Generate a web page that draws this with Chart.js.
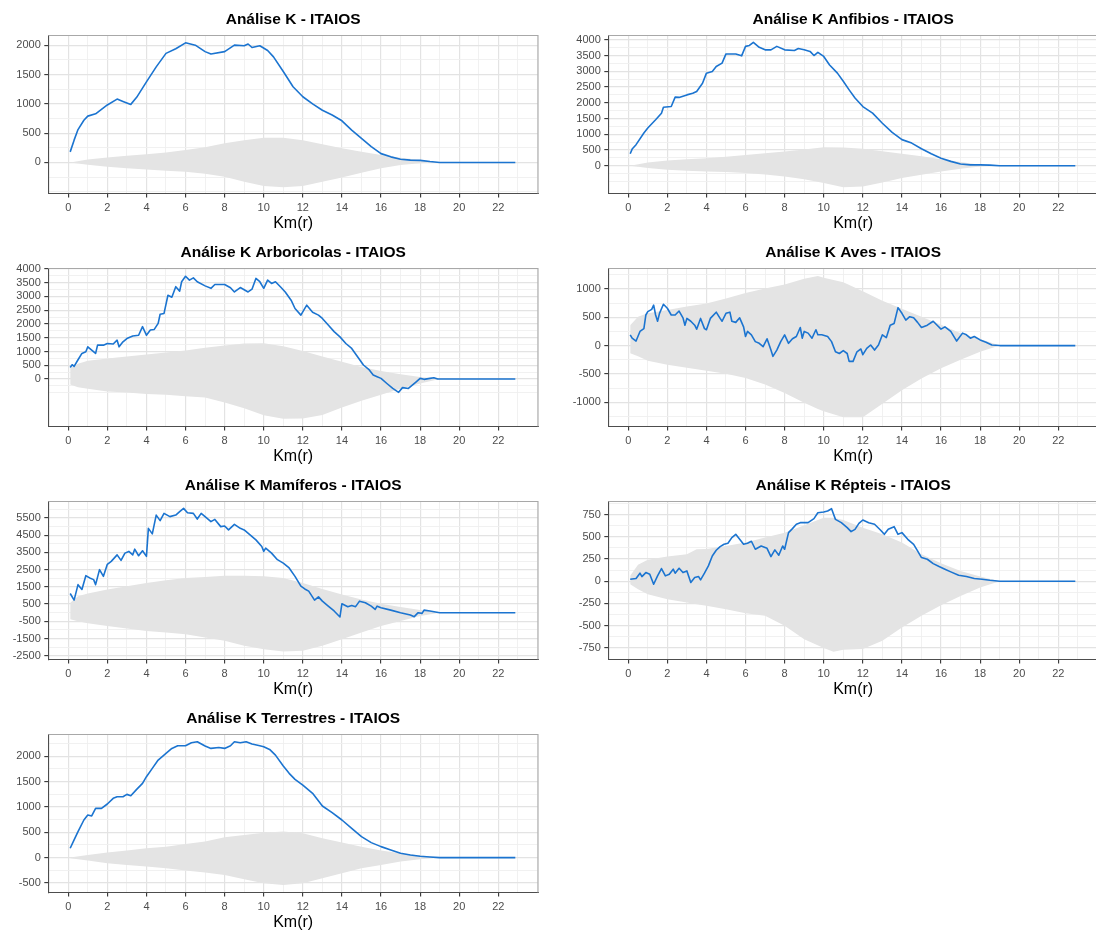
<!DOCTYPE html>
<html><head><meta charset="utf-8">
<script src="https://cdn.jsdelivr.net/npm/chart.js@4.4.1/dist/chart.umd.min.js"></script>
<style>
html,body{margin:0;padding:0;background:#fff;overflow:hidden;width:1096px;height:931px;position:relative}
canvas{position:absolute}
</style></head><body>
<canvas id="c1" width="548" height="233" style="left:0;top:0"></canvas>
<canvas id="c2" width="548" height="233" style="left:560px;top:0"></canvas>
<canvas id="c3" width="548" height="233" style="left:0;top:233px"></canvas>
<canvas id="c4" width="548" height="233" style="left:560px;top:233px"></canvas>
<canvas id="c5" width="548" height="233" style="left:0;top:466px"></canvas>
<canvas id="c6" width="548" height="233" style="left:560px;top:466px"></canvas>
<canvas id="c7" width="548" height="233" style="left:0;top:699px"></canvas>
<script>
// ---------- data ----------
const xTicks = [0, 2, 4, 6, 8, 10, 12, 14, 16, 18, 20, 22];

// Análise K - ITAIOS
const geralR = [0.1,0.3,0.5,0.8,1.0,1.4,2.0,2.5,2.8,3.2,3.5,4.0,4.5,5.0,5.5,6.0,6.5,7.0,7.3,8.0,8.5,9.0,9.2,9.4,9.8,10.2,10.5,11.0,11.5,12.0,12.5,13.0,13.5,14.0,14.5,15.0,15.5,16.0,16.5,17.0,17.5,18.0,18.5,19.0,22.87];
const geralK = [180,380,560,720,790,830,980,1080,1040,990,1110,1375,1630,1860,1940,2040,2000,1890,1850,1890,2000,1990,2020,1960,1990,1910,1800,1550,1290,1120,1000,890,810,710,550,410,270,150,95,55,40,35,15,0,0];
const geralEnvR = [0.1,1,2,3,4,5,6,7,8,9,10,11,12,13,14,15,16,17,18,19];
const geralHi = [0,50,85,115,140,170,210,260,325,380,420,420,380,310,240,180,125,80,40,0];
const geralLo = [0,-40,-75,-100,-120,-140,-160,-195,-245,-330,-400,-425,-400,-330,-255,-175,-100,-45,-15,0];
const geralYTicks = [0,500,1000,1500,2000];

// Análise K Anfibios - ITAIOS
const anfR = [0.1,0.2,0.4,0.8,1.0,1.4,1.7,1.8,2.2,2.4,2.6,3.0,3.3,3.5,3.8,4.0,4.3,4.5,4.8,5.0,5.5,5.8,6.0,6.2,6.4,6.7,7.0,7.3,7.6,8.0,8.5,8.7,9.0,9.3,9.5,9.7,10.0,10.3,10.7,11.0,11.3,11.6,12.0,12.5,13.0,13.5,14.0,14.5,15.0,15.5,16.0,16.5,17.0,17.5,18.0,18.5,19.0,22.87];
const anfK = [380,530,670,1040,1200,1460,1670,1860,1880,2180,2170,2250,2300,2360,2620,2940,2990,3150,3260,3550,3550,3490,3790,3820,3920,3760,3680,3680,3790,3680,3660,3720,3680,3630,3500,3600,3470,3200,2940,2680,2410,2150,1880,1670,1350,1060,830,720,540,380,240,140,55,30,30,20,0,0];
const anfEnvR = [0.1,1,2,3,4,5,6,7,8,9,10,11,12,13,14,15,16,17,18,19];
const anfHi = [0,100,170,210,240,290,340,400,455,520,590,580,540,460,380,300,210,120,30,0];
const anfLo = [0,-70,-125,-155,-180,-200,-230,-280,-340,-430,-550,-680,-660,-530,-390,-285,-180,-95,-20,0];
const anfYTicks = [0,500,1000,1500,2000,2500,3000,3500,4000];

// Análise K Arboricolas - ITAIOS
const arbR = [0.1,0.2,0.3,0.5,0.7,0.9,1.0,1.2,1.4,1.5,1.8,2.0,2.3,2.5,2.6,2.8,3.0,3.3,3.6,3.8,4.0,4.2,4.4,4.6,4.7,4.9,5.1,5.3,5.5,5.7,5.8,6.0,6.2,6.4,6.6,7.0,7.3,7.5,8.0,8.3,8.5,8.8,9.2,9.4,9.6,9.8,10.0,10.2,10.4,10.6,10.9,11.1,11.4,11.6,11.9,12.2,12.5,12.8,13.0,13.3,13.6,13.9,14.2,14.5,14.8,15.1,15.4,15.6,15.8,16.0,16.3,16.6,16.9,17.1,17.4,17.6,17.8,18.0,18.2,18.5,18.7,18.9,22.87];
const arbK = [420,520,460,700,930,990,1170,1050,930,1230,1230,1290,1270,1410,1170,1350,1470,1560,1590,1900,1590,1780,1800,2020,2350,2380,3040,2970,3350,3190,3530,3730,3590,3670,3530,3380,3290,3430,3430,3310,3160,3320,3160,3260,3650,3530,3290,3590,3470,3530,3310,3160,2860,2560,2320,2680,2420,2320,2200,1960,1720,1530,1290,1110,810,510,330,145,85,25,-160,-340,-480,-310,-340,-220,-100,25,-10,25,50,0,0];
const arbEnvR = [0.1,0.5,1,2,3,4,5,6,7,8,9,10,11,12,13,14,15,16,17,18,19];
const arbHi = [390,560,660,750,820,890,960,1040,1140,1220,1290,1300,1190,1020,820,630,440,290,175,75,0];
const arbLo = [-200,-300,-350,-450,-490,-540,-570,-620,-670,-850,-1060,-1310,-1440,-1430,-1300,-1030,-790,-570,-350,-160,0];
const arbYTicks = [0,500,1000,1500,2000,2500,3000,3500,4000];

// Análise K Aves - ITAIOS
const avesR = [0.1,0.2,0.4,0.6,0.8,0.9,1.0,1.2,1.3,1.4,1.5,1.6,1.8,2.0,2.2,2.4,2.6,2.8,2.9,3.0,3.2,3.4,3.5,3.7,3.9,4.0,4.2,4.5,4.7,4.8,5.0,5.2,5.3,5.5,5.7,5.9,6.0,6.1,6.3,6.5,6.7,6.9,7.1,7.3,7.4,7.6,7.8,8.0,8.2,8.4,8.6,8.8,8.9,9.0,9.2,9.4,9.6,9.7,9.9,10.2,10.4,10.6,10.8,11.0,11.2,11.3,11.5,11.7,11.9,12.0,12.2,12.4,12.6,12.8,13.0,13.2,13.4,13.6,13.8,14.0,14.2,14.4,14.6,14.8,15.0,15.3,15.6,15.8,16.0,16.2,16.5,16.8,17.1,17.3,17.5,17.7,18.0,18.3,18.6,19.0,22.87];
const avesK = [190,130,80,250,300,540,600,640,715,540,430,570,730,660,540,540,610,490,360,480,430,360,290,480,300,280,480,590,480,430,570,590,430,410,490,330,160,250,190,70,40,-20,120,-80,-190,-80,70,190,40,120,160,320,130,250,220,130,280,190,190,160,70,-110,-140,-90,-140,-280,-280,-110,-60,-160,-50,10,-80,10,190,140,360,390,670,570,450,510,490,410,320,360,430,360,290,330,250,80,220,190,130,160,100,60,10,0,0];
const avesEnvR = [0.1,0.5,1,2,3,4,5,6,7,8,9,9.7,10,11,12,13,14,15,16,17,18,19];
const avesHi = [360,510,570,630,690,745,830,930,1010,1080,1180,1230,1200,1120,960,790,650,510,370,220,115,0];
const avesLo = [-135,-190,-270,-340,-390,-445,-500,-575,-690,-840,-1010,-1120,-1160,-1265,-1265,-1030,-790,-580,-400,-250,-110,0];
const avesYTicks = [-1000,-500,0,500,1000];

// Análise K Mamíferos - ITAIOS
const mamR = [0.1,0.3,0.5,0.7,0.9,1.1,1.3,1.4,1.6,1.8,2.0,2.2,2.5,2.7,2.9,3.1,3.3,3.4,3.6,3.8,4.0,4.1,4.3,4.5,4.7,4.9,5.2,5.5,5.7,5.9,6.1,6.4,6.6,6.8,7.0,7.3,7.5,7.8,8.0,8.2,8.5,8.8,9.0,9.3,9.6,9.9,10.0,10.1,10.4,10.7,11.0,11.3,11.6,11.9,12.1,12.3,12.6,12.8,13.0,13.3,13.6,13.9,14.0,14.3,14.5,14.7,14.9,15.2,15.5,15.7,15.8,16.0,16.5,17.0,17.5,17.7,17.9,18.1,18.2,18.5,19.0,22.87];
const mamK = [1115,730,1630,1350,2150,2020,1920,1630,2500,2110,2810,2980,3360,3040,3460,3560,3360,3690,3310,3600,3270,4900,4580,5670,5350,5770,5580,5670,5870,6060,5810,5770,5440,5770,5580,5290,5420,5000,5040,4810,5130,4900,4810,4520,4230,3850,3560,3750,3460,3080,2880,2600,2110,1540,1380,1250,730,920,670,380,100,-250,520,350,420,350,670,580,380,190,380,290,150,0,-130,-230,0,-40,150,100,0,0];
const mamEnvR = [0.1,0.5,1,2,3,4,5,6,7,8,9,10,11,12,13,14,15,16,17,18,19];
const mamHi = [580,960,1115,1350,1540,1730,1880,2020,2080,2150,2150,2110,2020,1730,1380,1060,770,520,330,150,0];
const mamLo = [-380,-500,-620,-770,-920,-1060,-1150,-1250,-1440,-1630,-1920,-2120,-2250,-2210,-1920,-1540,-1150,-770,-480,-190,0];
const mamYTicks = [-2500,-1500,-500,500,1500,2500,3500,4500,5500];

// Análise K Répteis - ITAIOS
const repR = [0.1,0.4,0.6,0.7,0.9,1.1,1.3,1.5,1.7,1.9,2.1,2.3,2.4,2.6,2.8,3.0,3.2,3.4,3.6,3.7,3.9,4.1,4.3,4.5,4.7,4.9,5.1,5.3,5.5,5.7,5.9,6.1,6.3,6.5,6.8,7.1,7.3,7.5,7.7,7.9,8.0,8.2,8.4,8.6,8.8,9.2,9.5,9.7,10.0,10.2,10.4,10.6,10.9,11.2,11.4,11.6,11.8,12.0,12.3,12.6,12.9,13.1,13.3,13.6,13.8,14.0,14.3,14.6,14.8,15.0,15.3,15.6,15.9,16.2,16.5,16.9,17.3,17.7,18.1,18.5,19.0,22.87];
const repK = [22,30,90,52,97,79,-34,60,142,60,79,135,90,146,97,116,-15,41,52,15,90,172,284,348,389,415,426,490,527,471,415,426,449,359,396,370,277,352,292,396,359,546,591,640,658,658,703,770,778,789,815,695,658,602,557,583,650,688,658,640,576,527,583,613,527,546,471,415,340,266,247,198,165,135,105,67,52,30,22,11,0,0];
const repEnvR = [0.1,0.5,1,2,3,3.5,4,5,6,7,8,9,10,10.5,11,12,13,14,15,16,17,18,19];
const repHi = [60,185,240,277,303,359,362,396,434,490,546,628,714,714,688,602,527,434,303,202,116,52,0];
const repLo = [-34,-90,-146,-202,-240,-258,-277,-314,-359,-389,-501,-651,-751,-793,-770,-763,-670,-520,-389,-269,-165,-71,0];
const repYTicks = [-750,-500,-250,0,250,500,750];

// Análise K Terrestres - ITAIOS
const terR = [0.1,0.3,0.5,0.8,1.0,1.2,1.4,1.7,2.0,2.3,2.5,2.8,3.0,3.2,3.5,3.8,4.0,4.3,4.6,5.0,5.3,5.6,6.0,6.3,6.6,7.0,7.3,7.7,8.0,8.3,8.5,8.8,9.1,9.4,9.8,10.0,10.3,10.6,11.0,11.3,11.6,12.0,12.5,13.0,13.5,14.0,14.5,15.0,15.5,16.0,16.5,17.0,17.5,18.0,18.5,19.0,22.87];
const terK = [184,348,512,741,840,820,970,970,1056,1168,1200,1200,1246,1220,1345,1463,1594,1758,1922,2053,2152,2204,2204,2263,2283,2198,2152,2171,2152,2204,2283,2263,2283,2237,2204,2185,2132,2020,1804,1660,1542,1430,1266,1017,886,741,577,413,295,216,151,85,52,26,13,0,0];
const terEnvR = [0.1,1,2,3,4,5,6,7,8,9,10,11,12,13,14,15,16,17,18,19];
const terHi = [0,52,98,138,184,216,269,315,400,446,492,512,479,380,295,216,138,85,39,0];
const terLo = [-13,-59,-112,-144,-177,-210,-256,-295,-341,-426,-505,-538,-505,-407,-308,-210,-144,-79,-33,0];
const terYTicks = [-500,0,500,1000,1500,2000];

// ---------- drawing ----------
const FONT = '"Liberation Sans", Arial, Helvetica, sans-serif';
Chart.defaults.font.family = FONT;
const LINE = '#1b74d0', ENV = '#e4e4e4';
const GRID_MAJ = '#e3e3e3', GRID_MIN = '#efefef';

function gridValues(majors, min, max) {
  const step = majors[1] - majors[0];
  const ext = majors.slice();
  if (min < majors[0]) ext.unshift(majors[0] - step);
  if (max > majors[majors.length - 1]) ext.push(majors[majors.length - 1] + step);
  const vals = [];
  for (let i = 0; i < ext.length; i++) {
    vals.push(ext[i]);
    if (i < ext.length - 1) vals.push((ext[i] + ext[i + 1]) / 2);
  }
  return vals.filter(v => v >= min && v <= max);
}
const pts = (xs, ys) => xs.map((x, i) => ({x: x, y: ys[i]}));

const frame = {
  id: 'frame',
  afterDraw(chart, args, opts) {
    const {ctx, chartArea: a} = chart;
    ctx.save();
    ctx.strokeStyle = '#a8a8a8';
    ctx.lineWidth = 1.1;
    ctx.beginPath();
    ctx.moveTo(a.left, a.top); ctx.lineTo(a.right, a.top); ctx.lineTo(a.right, a.bottom);
    ctx.stroke();
    ctx.fillStyle = '#000';
    ctx.font = 'bold 15.5px ' + FONT;
    ctx.textAlign = 'center';
    ctx.textBaseline = 'middle';
    ctx.fillText(opts.text, (a.left + a.right) / 2, a.top - 15.5);
    ctx.restore();
  }
};

function axis(majors, min, max, isX) {
  const maj = new Set(majors);
  const isM = c => c && c.tick && maj.has(c.tick.value);
  const o = {
    type: 'linear', min: min, max: max,
    afterBuildTicks: ax => { ax.ticks = gridValues(majors, min, max).map(v => ({value: v})); },
    ticks: {
      autoSkip: false, maxRotation: 0, minRotation: 0,
      font: {size: 11}, color: '#4d4d4d', padding: isX ? 4 : 3.5,
      callback: v => maj.has(v) ? String(v) : ''
    },
    grid: {
      color: c => isM(c) ? GRID_MAJ : GRID_MIN,
      lineWidth: c => isM(c) ? 1.2 : 0.9,
      tickLength: 4,
      tickColor: c => isM(c) ? '#333333' : 'rgba(0,0,0,0)',
      tickWidth: 1.1
    },
    border: {display: true, color: '#4d4d4d', width: 1.1}
  };
  if (isX) {
    o.afterFit = ax => { ax.height = 39.5; };
    o.title = {display: true, text: 'Km(r)', color: '#000', font: {size: 16}, padding: {top: 0, bottom: 0}};
  } else {
    o.afterFit = ax => { ax.width = 48.3; };
  }
  return o;
}

function panel(id, title, r, k, er, hi, lo, yTicks, yMin, yMax) {
  new Chart(document.getElementById(id), {
    type: 'line',
    data: {
      datasets: [
        // observed curve: dataset 0 is drawn last (on top)
        {data: pts(r, k), borderColor: LINE, borderWidth: 1.6, pointRadius: 0, fill: false, tension: 0, borderJoinStyle: 'round'},
        // simulation envelope: lower edge, then upper edge filled down to it
        {data: pts(er, lo), borderWidth: 0, borderColor: 'rgba(0,0,0,0)', pointRadius: 0, fill: false},
        {data: pts(er, hi), borderWidth: 0, borderColor: 'rgba(0,0,0,0)', pointRadius: 0, fill: '-1', backgroundColor: ENV}
      ]
    },
    options: {
      responsive: false, animation: false, devicePixelRatio: 1,
      layout: {padding: {left: 0, top: 35.5, right: 10, bottom: 0}},
      plugins: {legend: {display: false}, tooltip: {enabled: false}, frame: {text: title}},
      scales: {
        x: axis(xTicks, -1.02, 24.03, true),
        y: axis(yTicks, yMin, yMax, false)
      }
    },
    plugins: [frame]
  });
}

panel('c1', 'Análise K - ITAIOS', geralR, geralK, geralEnvR, geralHi, geralLo, geralYTicks, -530, 2165);
panel('c2', 'Análise K Anfibios - ITAIOS', anfR, anfK, anfEnvR, anfHi, anfLo, anfYTicks, -880, 4135);
panel('c3', 'Análise K Arboricolas - ITAIOS', arbR, arbK, arbEnvR, arbHi, arbLo, arbYTicks, -1720, 4010);
panel('c4', 'Análise K Aves - ITAIOS', avesR, avesK, avesEnvR, avesHi, avesLo, avesYTicks, -1430, 1362);
panel('c5', 'Análise K Mamíferos - ITAIOS', mamR, mamK, mamEnvR, mamHi, mamLo, mamYTicks, -2720, 6460);
panel('c6', 'Análise K Répteis - ITAIOS', repR, repK, repEnvR, repHi, repLo, repYTicks, -880, 896);
panel('c7', 'Análise K Terrestres - ITAIOS', terR, terK, terEnvR, terHi, terLo, terYTicks, -688, 2426);
</script>
</body></html>
